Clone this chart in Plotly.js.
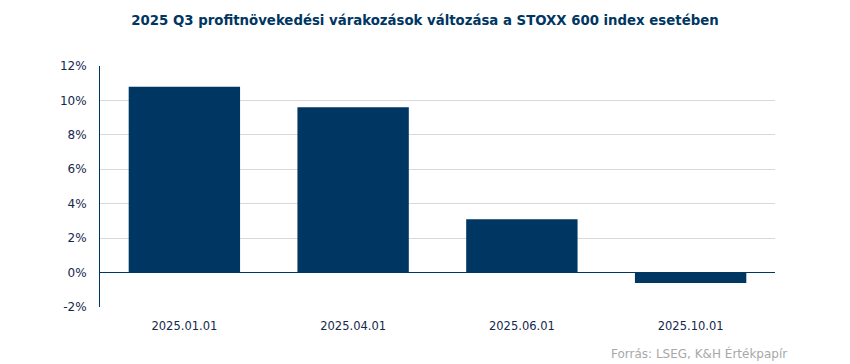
<!DOCTYPE html>
<html><head><meta charset="utf-8">
<script src="https://cdn.plot.ly/plotly-3.0.1.min.js"></script>
<style>html,body{margin:0;padding:0;background:#fff}</style>
</head><body>
<div id="chart" style="width:850px;height:364px"></div>
<script>
const categories = ["2025.01.01", "2025.04.01", "2025.06.01", "2025.10.01"];
const values = [0.108, 0.096, 0.031, -0.006];
const tickVals = [-0.02, 0, 0.02, 0.04, 0.06, 0.08, 0.10, 0.12];
const tickText = ["-2%", "0%", "2%", "4%", "6%", "8%", "10%", "12%"];
const navy = "#003662";
const labelColor = "#14284b";
Plotly.newPlot("chart", [{
  type: "bar", x: categories, y: values,
  marker: {color: navy}, hoverinfo: "skip"
}], {
  width: 850, height: 364,
  margin: {l: 100, r: 75, t: 66, b: 57},
  bargap: 0.34,
  paper_bgcolor: "#fff", plot_bgcolor: "#fff",
  showlegend: false,
  title: {text: "2025 Q3 profitnövekedési várakozások változása a STOXX 600 index esetében",
    font: {family: "DejaVu Sans", size: 13.3, color: navy, weight: "bold"},
    x: 0.5, xanchor: "center", y: 0.945, yanchor: "middle"},
  xaxis: {type: "category", showgrid: false, showline: false, ticks: "",
    ticklabelstandoff: 10,
    tickfont: {family: "DejaVu Sans", size: 11.5, color: labelColor}},
  yaxis: {range: [-0.02, 0.12], tickvals: tickVals, ticktext: tickText,
    showgrid: true, gridcolor: "#d9d9d9", gridwidth: 1,
    zeroline: true, zerolinecolor: navy, zerolinewidth: 1,
    showline: true, linecolor: navy, linewidth: 1, ticks: "",
    ticklabelstandoff: 10,
    tickfont: {family: "DejaVu Sans", size: 12, color: labelColor}},
  annotations: [{text: "Forrás: LSEG, K&H Értékpapír", xref: "paper", yref: "paper",
    x: 1.02, y: -0.155, xanchor: "right", yanchor: "top", showarrow: false,
    font: {family: "DejaVu Sans", size: 12, color: "#a8a8a8"}}]
}, {displayModeBar: false, staticPlot: true});
</script>
</body></html>
